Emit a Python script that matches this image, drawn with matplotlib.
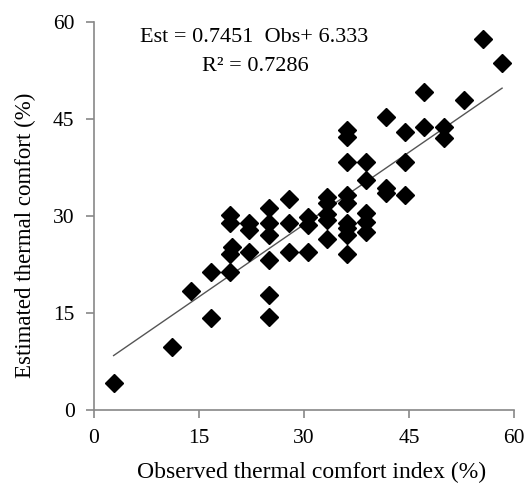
import matplotlib
matplotlib.use("Agg")
import matplotlib.pyplot as plt
import numpy as np

obs = [2.8, 11.1, 13.9, 16.7, 16.7, 19.4, 19.4, 19.7, 19.4, 19.4,
       22.2, 22.2, 22.2, 25.0, 25.0, 25.0, 25.0, 25.0, 25.0,
       27.8, 27.8, 27.8, 30.6, 30.6, 30.6,
       33.3, 33.3, 33.3, 33.3, 33.3,
       36.1, 36.1, 36.1, 36.1, 36.1, 36.1, 36.1, 36.1, 36.1,
       38.9, 38.9, 38.9, 38.9, 38.9,
       41.7, 41.7, 41.7, 44.4, 44.4, 44.4,
       47.2, 47.2, 50.0, 50.0, 52.8, 55.6, 58.3]
est = [4.1, 9.8, 18.4, 14.2, 21.4, 21.4, 24.2, 25.2, 28.9, 30.1,
       24.5, 27.8, 28.9, 14.4, 17.8, 23.2, 27.0, 28.9, 31.3,
       24.5, 28.9, 32.7, 24.5, 28.6, 29.9,
       26.5, 29.4, 30.3, 32.0, 33.0,
       24.2, 27.0, 28.1, 28.9, 32.0, 33.2, 38.4, 42.2, 43.3,
       27.6, 29.1, 30.4, 35.5, 38.4,
       33.5, 34.3, 45.3, 33.2, 38.4, 43.0,
       43.8, 49.2, 42.0, 43.8, 47.9, 57.3, 53.7]

slope = 0.7451
intercept = 6.333
r2 = 0.7286
ticks = [0, 15, 30, 45, 60]

plt.rcParams['font.family'] = ['Liberation Serif', 'DejaVu Serif']

fig = plt.figure(figsize=(5.29, 4.87), dpi=100)
ax = fig.add_axes([0.1777, 0.1581, 0.9716 - 0.1777, 0.9548 - 0.1581])

xs = np.array([min(obs), max(obs)])
ax.plot(xs, slope * xs + intercept, color='#555555', lw=1.0, zorder=2)
ax.plot(obs, est, linestyle='none', marker='D', markersize=9.5,
        color='black', zorder=3)

ax.set_xlim(0, 60)
ax.set_ylim(0, 60)
ax.set_xticks(ticks)
ax.set_yticks(ticks)
ax.tick_params(axis='both', direction='out', length=6, width=1.2,
               color='#888888', labelsize=15.5, pad=8)
for s in ['top', 'right']:
    ax.spines[s].set_visible(False)
for s in ['left', 'bottom']:
    ax.spines[s].set_color('#888888')
    ax.spines[s].set_linewidth(1.2)

ax.set_xlabel('Observed thermal comfort index (%)', fontsize=17)
ax.set_ylabel('Estimated thermal comfort (%)', fontsize=16.5)
ax.xaxis.label.set_va('center')
ax.yaxis.label.set_va('center')
ax.xaxis.set_label_coords(0.517, -0.162)
ax.yaxis.set_label_coords(-0.164, 0.45)

ax.text(0.381, 0.959, 'Est = 0.7451  Obs+ 6.333', transform=ax.transAxes,
        ha='center', va='center', fontsize=16)
ax.text(0.384, 0.885, 'R² = 0.7286', transform=ax.transAxes,
        ha='center', va='center', fontsize=16)

fig.savefig('out.png', dpi=100)
